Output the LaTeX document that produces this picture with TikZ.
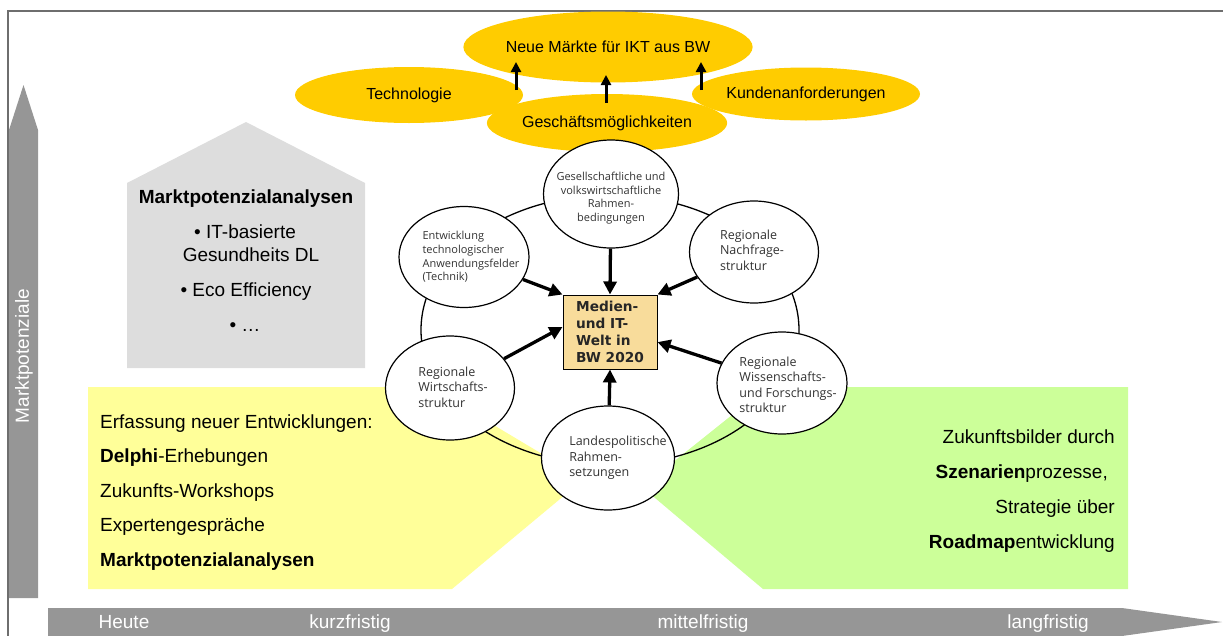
\documentclass[tikz,border=0pt]{standalone}
\usepackage{fontspec}
\setmainfont{Liberation Sans}
\newfontfamily\circfont{Open Sans}
\newfontfamily\boxfont{DejaVu Sans}
\usetikzlibrary{shapes.geometric,arrows.meta}
\definecolor{gold}{HTML}{FFCC00}
\definecolor{lyellow}{HTML}{FFFF99}
\definecolor{lgreen}{HTML}{CCFF99}
\definecolor{agray}{HTML}{969696}
\definecolor{hgray}{HTML}{DDDDDD}
\definecolor{boxtan}{HTML}{F8DC9B}
\definecolor{framegray}{HTML}{6E6E6E}
\definecolor{ctext}{HTML}{333333}
\tikzset{
  goldell/.style={ellipse, fill=gold, inner sep=0pt, font=\fontsize{16}{19}\selectfont},
  circ/.style={ellipse, draw=black, line width=1.2pt, fill=white, inner sep=0pt},
  ctxt/.style={inner sep=0pt, align=left, text=ctext, font=\circfont\fontsize{12.5}{15.5}\selectfont},
  ctxtsmall/.style={inner sep=0pt, text=ctext, font=\circfont\fontsize{11}{13.5}\selectfont},
  arr/.style={line width=3.3pt, -{Triangle[width=13pt,length=13pt]}},
  toparr/.style={line width=3pt, -{Triangle[width=10pt,length=10pt]}},
  bigtxt/.style={inner sep=0pt, font=\fontsize{19}{22}\selectfont},
  axislbl/.style={inner sep=0pt, text=white, font=\fontsize{19}{22}\selectfont},
}
\begin{document}
\begin{tikzpicture}[x=1pt,y=-1pt]
\useasboundingbox (0,0) rectangle (1223,635);
% frame
\draw[framegray, line width=1.6pt] (8,640) -- (8,11) -- (1230,11);
% vertical arrow
\fill[agray] (9,598) -- (9,130) -- (23.5,85) -- (38,130) -- (38,598) -- cycle;
\node[axislbl, rotate=90] (mp) at (24,356) {Marktpotenziale};
% bottom arrow
\fill[agray] (48,608) -- (1122,608) -- (1222,622) -- (1122,636) -- (48,636) -- cycle;
\node[axislbl, anchor=base] (t1) at (124,628) {Heute};
\node[axislbl, anchor=base] (t2) at (350,628) {kurzfristig};
\node[axislbl, anchor=base] (t3) at (703,628) {mittelfristig};
\node[axislbl, anchor=base] (t4) at (1048,628) {langfristig};
% house
\fill[hgray] (127,368) -- (127,183) -- (246,122) -- (365,183) -- (365,368) -- cycle;
\node[bigtxt, anchor=base, font=\bfseries\fontsize{19}{22}\selectfont] (h1) at (246,203) {Marktpotenzialanalysen};
\node[bigtxt, anchor=base] (h2) at (245,238) {• IT-basierte};
\node[bigtxt, anchor=base] (h3) at (251,261) {Gesundheits DL};
\node[bigtxt, anchor=base] (h4) at (246,296) {• Eco Efficiency};
\node[bigtxt, anchor=base] (h5) at (245,331) {• …};
% yellow and green areas
\fill[lyellow] (88,387) -- (430,387) -- (584,479) -- (452,589) -- (88,589) -- cycle;
\fill[lgreen] (767,387) -- (1128,387) -- (1128,589) -- (763,589) -- (642,487) -- cycle;
\node[bigtxt, anchor=base west] (l1) at (100,428) {Erfassung neuer Entwicklungen:};
\node[bigtxt, anchor=base west] (l2) at (100,462) {\textbf{Delphi}-Erhebungen};
\node[bigtxt, anchor=base west] (l3) at (100,497) {Zukunfts-Workshops};
\node[bigtxt, anchor=base west] (l4) at (100,531) {Expertengespräche};
\node[bigtxt, anchor=base west] (l5) at (100,566) {\textbf{Marktpotenzialanalysen}};
\node[bigtxt, anchor=base east] (r1) at (1115,443) {Zukunftsbilder durch};
\node[bigtxt, anchor=base east] (r2) at (1108,478) {\textbf{Szenarien}prozesse,};
\node[bigtxt, anchor=base east] (r3) at (1115,513) {Strategie über};
\node[bigtxt, anchor=base east] (r4) at (1115,548) {\textbf{Roadmap}entwicklung};
% ring
\draw[line width=1.3pt] (610,330) ellipse [x radius=189, y radius=135];
% gold ellipses
\node[goldell, minimum width=277pt, minimum height=71pt] (neue) at (608,47) {Neue Märkte für IKT aus BW};
\node[goldell, minimum width=228pt, minimum height=56pt] (tech) at (409,95) {Technologie};
\node[goldell, minimum width=228pt, minimum height=53pt] (kund) at (806,94) {Kundenanforderungen};
\node[goldell, minimum width=228pt, minimum height=58pt] (gesch) at (607,123) {Geschäftsmöglichkeiten};
\coordinate (a1s) at (516,90); \coordinate (a1e) at (516,62);
\coordinate (a2s) at (606,103); \coordinate (a2e) at (606,75);
\coordinate (a3s) at (701,90); \coordinate (a3e) at (701,62);
\draw[toparr] (a1s) -- (a1e);
\draw[toparr] (a2s) -- (a2e);
\draw[toparr] (a3s) -- (a3e);
% circles
\node[circ, minimum width=135pt, minimum height=108pt] (ges) at (611,194) {};
\node[circ, minimum width=130pt, minimum height=101pt] (ent) at (464,257) {};
\node[circ, minimum width=129pt, minimum height=102pt] (nach) at (754,252) {};
\node[circ, minimum width=129pt, minimum height=104pt] (wirt) at (450,388) {};
\node[circ, minimum width=130pt, minimum height=102pt] (wiss) at (782,383) {};
\node[circ, minimum width=133pt, minimum height=104pt] (lan) at (608,458) {};
\node[ctxtsmall, align=center] (gest) at (611,198) {Gesellschaftliche und\\volkswirtschaftliche\\Rahmen-\\bedingungen};
\node[ctxtsmall, align=left, font=\circfont\fontsize{11}{13.7}\selectfont] (entt) at (471,257) {Entwicklung\\technologischer\\Anwendungsfelder\\(Technik)};
\node[ctxt] (nacht) at (752,250) {Regionale\\Nachfrage-\\struktur};
\node[ctxt] (wirtt) at (453,387) {Regionale\\Wirtschafts-\\struktur};
\node[ctxt] (wisst) at (788,385) {Regionale\\Wissenschafts-\\und Forschungs-\\struktur};
\node[ctxt] (lant) at (618,458) {Landespolitische\\Rahmen-\\setzungen};
% central box
\node[draw=black, line width=1pt, fill=boxtan, minimum width=94pt, minimum height=74pt, inner sep=0pt, align=left, text=black!85, font=\boxfont\bfseries\fontsize{13.7}{17.1}\selectfont] (box) at (610,332) {Medien-\\und IT-\\Welt in\\BW 2020};
% arrows to box
\draw[arr] (ges) -- (box.north);
\draw[arr] (ent) -- (box.north west);
\draw[arr] (nach) -- (box.north east);
\draw[arr] (wirt) -- (box.174);
\draw[arr] (wiss) -- (box.-12);
\draw[arr] (lan) -- (box.south);
\end{tikzpicture}
\end{document}
